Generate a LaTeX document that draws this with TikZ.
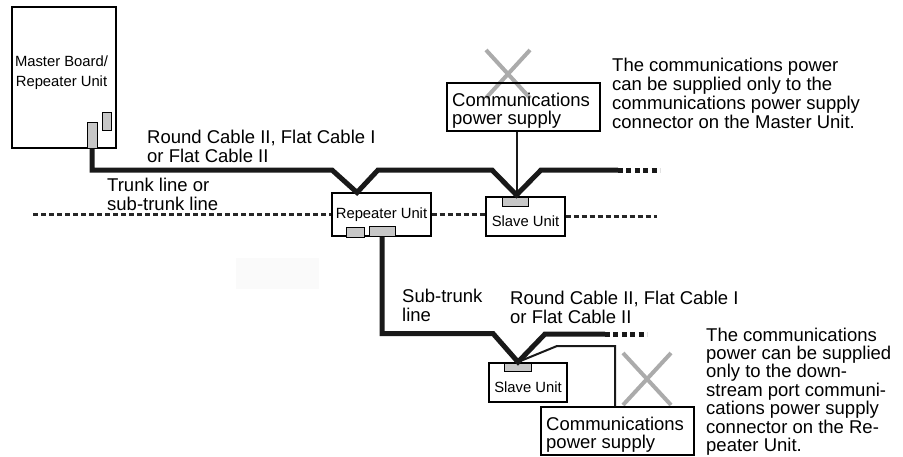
\documentclass[tikz,border=0pt]{standalone}
\usepackage{fontspec}
\setmainfont{Liberation Sans}
\usepackage{tikz}
\usetikzlibrary{calc}
\usepackage{xcolor}

\begin{document}
\begin{tikzpicture}[x=1pt,y=-1pt,line cap=butt,
  unit/.style={draw,line width=1.1pt,inner sep=0pt,font=\fontsize{14.8}{18}\selectfont},
  slaveunit/.style={unit,text height=20pt,text depth=0pt},
  port/.style={draw,fill=black!22,line width=0.9pt,inner sep=0pt},
  big/.style={inner sep=0pt,anchor=north west,align=left,font=\fontsize{18.5}{18.7}\selectfont},
  cable/.style={line width=5pt,black!90,line join=miter},
  cableend/.style={line width=5pt,black!90,dash pattern=on 5pt off 3.4pt},
  thinline/.style={line width=2pt,black!90},
  busline/.style={line width=2.6pt,black!85,dash pattern=on 5pt off 3pt},
  cross/.style={line width=4pt,black!33}]
\useasboundingbox (0,0) rectangle (903,456);
\fill[black!2] (236,258) rectangle (319,289);
% crosses
\draw[cross] (486,50) -- (530,98) (530,50) -- (486,98);
\draw[cross] (623,353) -- (671,405) (671,353) -- (623,405);
% units
\node[unit,minimum width=104,minimum height=141] (master) at (64,77.5) {};
\node[inner sep=0pt,anchor=north,align=center,font=\fontsize{14.8}{20}\selectfont] (mastertxt) at (61.5,55.4) {Master Board/\\Repeater Unit};
\node[port,minimum width=10,minimum height=26] (mportA) at (92,135) {};
\node[port,minimum width=9,minimum height=18] (mportB) at (106.5,121) {};
\node[unit,minimum width=99,minimum height=43] (rep) at (381.5,214.5) {Repeater Unit};
\node[port,minimum width=18,minimum height=10] (repA) at (355,232) {};
\node[port,minimum width=26,minimum height=9.5] (repB) at (382,231.5) {};
\node[slaveunit,minimum width=79,minimum height=39] (slaveA) at (525.5,216.5) {Slave Unit};
\node[port,minimum width=26,minimum height=9] (sportA) at (515,201.5) {};
\node[slaveunit,minimum width=78,minimum height=39] (slaveB) at (528,382.5) {Slave Unit};
\node[port,minimum width=27,minimum height=8] (sportB) at (517.5,367) {};
\node[unit,minimum width=153,minimum height=48] (psuA) at (523.5,107) {};
\node[big,font=\fontsize{18.5}{18}\selectfont] (psuAtxt) at (452,92.8) {Communications\\power supply};
\node[unit,minimum width=153,minimum height=48] (psuB) at (617.5,431) {};
\node[big,font=\fontsize{18.5}{18}\selectfont] (psuBtxt) at (546,416.8) {Communications\\power supply};
% trunk line
\coordinate (tkA) at (332,170);
\coordinate (tkV) at (357,192.5);
\coordinate (tkB) at (378,170);
\coordinate (tkC) at (492,170);
\coordinate (tkW) at (516.5,195);
\coordinate (tkD) at (541,170);
\coordinate (tkE) at (618,170);
\coordinate (tkF) at (660,170);
\draw[cable] (mportA.south) |- (tkA) -- (tkV) -- (tkB) -- (tkC) -- (tkW) -- (tkD) -- (tkE);
\draw[cableend] (tkE) -- (tkF);
\draw[thinline] (psuA.south -| tkW) -- (tkW);
% sub-trunk line
\coordinate (sbA) at (493,333.5);
\coordinate (sbV) at (518,362);
\coordinate (sbB) at (545,334);
\coordinate (sbC) at (605,334);
\coordinate (sbD) at (647,334);
\coordinate (tnA) at (557,346);
\coordinate (tnB) at (615,346);
\draw[cable] (repB.south) |- (sbA) -- (sbV) -- (sbB) -- (sbC);
\draw[cableend] (sbC) -- (sbD);
\draw[thinline] (sbV) -- (tnA) -- (tnB) -- (tnB |- psuB.north);
% communications line
\coordinate (busL) at (33,214.5);
\coordinate (busR) at (657,216.5);
\draw[busline] (busL) -- (rep.west);
\draw[busline] (rep.east) -- (rep.east -| slaveA.west);
\draw[busline] (slaveA.east) -- (busR);
% labels
\node[big] (cabA) at (147,129.8) {Round Cable II, Flat Cable I\\or Flat Cable II};
\node[big] (trunk) at (107,177.8) {Trunk line or\\sub-trunk line};
\node[big] (subtrunk) at (402,288.8) {Sub-trunk\\line};
\node[big] (cabB) at (510,291.2) {Round Cable II, Flat Cable I\\or Flat Cable II};
\node[big,font=\fontsize{18.5}{19}\selectfont] (noteA) at (612,57.5) {The communications power\\can be supplied only to the\\communications power supply\\connector on the Master Unit.};
\node[big,font=\fontsize{18.5}{18.4}\selectfont] (noteB) at (706,327.5) {The communications\\power can be supplied\\only to the down-\\stream port communi-\\cations power supply\\connector on the Re-\\peater Unit.};
\end{tikzpicture}
\end{document}
